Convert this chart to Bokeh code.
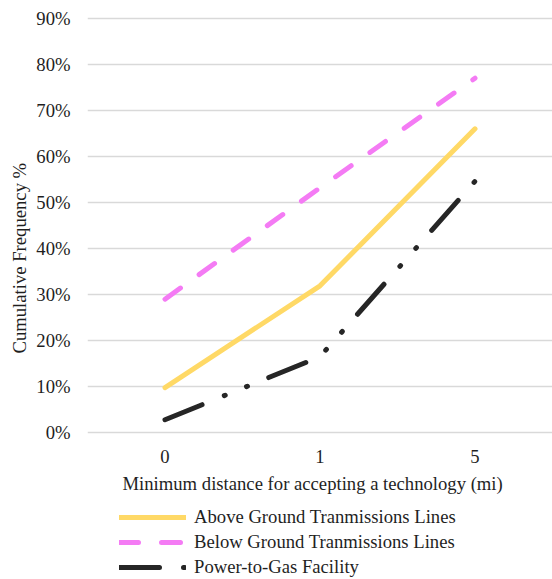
from bokeh.plotting import figure
from bokeh.layouts import column
from bokeh.models import (Range1d, FactorRange, Legend, LegendItem, NumeralTickFormatter,
                          FixedTicker, Title)
from bokeh.embed import file_html
from bokeh.resources import INLINE

# Minimum acceptable distance (mi) and cumulative share of respondents
distances = ["0", "1", "5"]
above_ground = [0.098, 0.319, 0.660]
below_ground = [0.290, 0.532, 0.770]
power_to_gas = [0.028, 0.165, 0.546]

series_names = [
    "Above Ground Tranmissions Lines",
    "Below Ground Tranmissions Lines",
    "Power-to-Gas Facility",
]
y_ticks = [0.0, 0.1, 0.2, 0.3, 0.4, 0.5, 0.6, 0.7, 0.8, 0.9]
x_title = "Minimum distance for accepting a technology (mi)"
y_title = "Cumulative Frequency %"

FONT = "Liberation Serif"
SIZE = "18.67px"
TEXT = "#1f1f1f"

styles = [
    dict(line_color="#FFD966"),
    dict(line_color="#F47BF4", line_dash="19 23"),
    dict(line_color="#262626", line_dash="40 24 1 23 1 23"),
]
common = dict(line_width=5, line_cap="round", line_join="round")

# ---- main chart ----
p = figure(
    width=552, height=498,
    x_range=FactorRange(*distances, range_padding=0),
    y_range=Range1d(-0.004, 0.904),
    frame_width=465, frame_height=418,
    min_border_left=87, min_border_right=0, min_border_top=16, min_border_bottom=0,
    output_backend="svg", toolbar_location=None,
)
p.outline_line_color = None
p.background_fill_color = "white"
p.border_fill_color = "white"

p.xgrid.grid_line_color = None
p.ygrid.grid_line_color = "#D9D9D9"
p.ygrid.grid_line_width = 1.5
p.ygrid.ticker = FixedTicker(ticks=y_ticks)

p.yaxis.ticker = FixedTicker(ticks=y_ticks)
p.yaxis.formatter = NumeralTickFormatter(format="0%")
for ax in (p.xaxis[0], p.yaxis[0]):
    ax.axis_line_color = None
    ax.major_tick_line_color = None
    ax.minor_tick_line_color = None
    ax.major_tick_out = 0
    ax.major_tick_in = 0
    ax.major_label_text_font = FONT
    ax.major_label_text_font_size = SIZE
    ax.major_label_text_color = TEXT
p.yaxis.major_label_standoff = 17
p.xaxis.major_label_standoff = 15

title_kw = dict(text_font=FONT, text_font_size=SIZE, text_font_style="normal",
                text_color=TEXT, align="left")
has_standoff = "standoff" in Title.properties()
t_y = Title(text=y_title, offset=81, **title_kw)
if has_standoff:
    t_y.standoff = 7
p.add_layout(t_y, "left")
t_x = Title(text=x_title, offset=35, **title_kw)
if has_standoff:
    t_x.standoff = 10
p.add_layout(t_x, "below")

renderers = [
    p.line(distances, vals, **common, **st)
    for vals, st in zip([above_ground, below_ground, power_to_gas], styles)
]

# ---- legend strip underneath ----
lg = figure(
    width=552, height=81,
    x_range=Range1d(0, 1), y_range=Range1d(0, 1),
    min_border=0, output_backend="svg", toolbar_location=None,
)
lg.axis.visible = False
lg.grid.visible = False
lg.outline_line_color = None
lg.border_fill_color = "white"
lg_renderers = [
    lg.line([0, 0.5, 1], [5, 5, 5], **common, **st)
    for st in styles
]
legend = Legend(
    items=[LegendItem(label=n, renderers=[r]) for n, r in zip(series_names, lg_renderers)],
    location=(32, 1),
    orientation="vertical",
    border_line_color=None,
    background_fill_alpha=0,
    padding=0, margin=0, spacing=3,
    glyph_width=67, glyph_height=22, label_height=22,
    label_standoff=8,
    label_text_font=FONT, label_text_font_size=SIZE, label_text_color=TEXT,
)
lg.add_layout(legend, "center")

page = column(p, lg, spacing=0)
open("out.html", "w").write(file_html(page, INLINE))
